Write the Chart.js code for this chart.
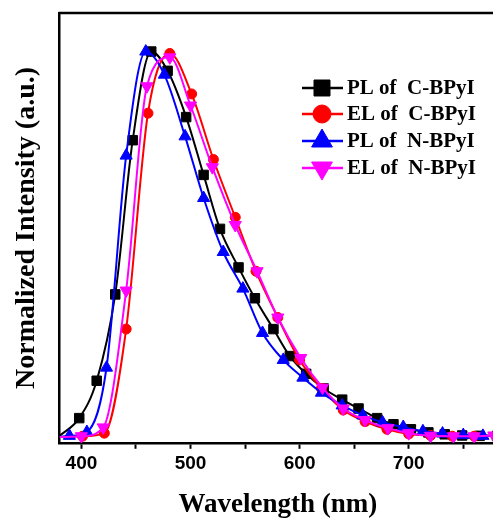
<!DOCTYPE html>
<html>
<head>
<meta charset="utf-8">
<script src="https://cdn.jsdelivr.net/npm/chart.js@4.4.0/dist/chart.umd.min.js"></script>
<style>
  html, body { margin: 0; padding: 0; background: #fff; overflow: hidden; }
  #wrap { width: 504px; height: 522px; }
</style>
</head>
<body>
<div id="wrap"><canvas id="spectra" width="504" height="522"></canvas></div>
<script>
// wavelengths (nm) and normalized intensity
// first point of each list is the curve start at the left axis (no marker)
const wlPLC  = [380, 398, 414, 431, 447, 464, 479, 496, 512, 527, 544, 559, 576, 591, 606, 622, 639, 654, 671, 686, 702, 718, 733, 749, 765, 781];
const valPLC = [0.003, 0.049, 0.146, 0.37, 0.77, 1.0, 0.95, 0.83, 0.68, 0.54, 0.44, 0.36, 0.28, 0.21, 0.164, 0.126, 0.097, 0.074, 0.049, 0.033, 0.02, 0.012, 0.007, 0.004, 0.003, 0.003];

const wlELC  = [380, 401, 421, 441, 461, 481, 501, 521, 541, 560, 580, 600, 620, 640, 660, 680, 700, 720, 740, 760, 780];
const valELC = [0.0, 0.002, 0.01, 0.28, 0.84, 0.995, 0.89, 0.72, 0.57, 0.43, 0.31, 0.20, 0.126, 0.07, 0.04, 0.02, 0.008, 0.004, 0.002, 0.002, 0.004];

const wlPLN  = [380, 389, 405, 423, 441, 459, 476, 495, 512, 530, 548, 566, 585, 603, 620, 639, 658, 676, 695, 713, 731, 750, 768, 786];
const valPLN = [0.0, 0.003, 0.013, 0.18, 0.73, 1.0, 0.94, 0.78, 0.62, 0.48, 0.385, 0.27, 0.20, 0.154, 0.115, 0.082, 0.056, 0.038, 0.026, 0.015, 0.009, 0.005, 0.003, 0.003];

const wlELN  = [380, 400, 420, 441, 460, 481, 500, 520, 541, 561, 580, 601, 621, 640, 660, 681, 700, 720, 741, 760, 778];
const valELN = [0.0, 0.002, 0.025, 0.38, 0.91, 0.985, 0.86, 0.70, 0.55, 0.43, 0.31, 0.205, 0.128, 0.074, 0.044, 0.023, 0.01, 0.003, 0.002, 0.002, 0.004];

const seriesNames = ['PL of  C-BPyI', 'EL of  C-BPyI', 'PL of  N-BPyI', 'EL of  N-BPyI'];
const xTicks = [400, 450, 500, 550, 600, 650, 700, 750];

function toPoints(xs, ys) {
    return xs.map((x, i) => ({x: x, y: ys[i]}));
}

function makeSet(label, xs, ys, color, style, r, rot, order) {
    return {
        label: label,
        data: toPoints(xs, ys),
        borderColor: color,
        backgroundColor: color,
        borderWidth: 2,
        pointStyle: style,
        pointRotation: rot,
        pointRadius: (ctx) => ctx.dataIndex === 0 ? 0 : r,
        pointBorderWidth: 1,
        pointBorderColor: color,
        pointBackgroundColor: color,
        cubicInterpolationMode: 'monotone',
        order: order
    };
}

const datasets = [
    makeSet(seriesNames[0], wlPLC, valPLC, '#000000', 'rect', 6.7, 0, 4),
    makeSet(seriesNames[1], wlELC, valELC, '#ff0000', 'circle', 5, 0, 3),
    makeSet(seriesNames[2], wlPLN, valPLN, '#0000ff', 'triangle', 7, 0, 2),
    makeSet(seriesNames[3], wlELN, valELN, '#ff00ff', 'triangle', 7, 180, 1)
];

// top frame line
const framePlugin = {
    id: 'frame',
    afterDraw(chart) {
        const a = chart.chartArea;
        const ctx = chart.ctx;
        ctx.save();
        ctx.strokeStyle = '#000';
        ctx.lineWidth = 2.5;
        ctx.beginPath();
        ctx.moveTo(a.left - 1, a.top);
        ctx.lineTo(a.right, a.top);
        ctx.lineTo(a.right, a.bottom);
        ctx.stroke();
        ctx.restore();
    }
};

// legend with a line through the marker
const legendPlugin = {
    id: 'lineLegend',
    afterDraw(chart) {
        const ctx = chart.ctx;
        const legendR = [11.3, 9, 12, 12];
        const rowY = [88, 114, 141, 168];
        ctx.save();
        chart.data.datasets.forEach((ds, i) => {
            const y = rowY[i];
            ctx.strokeStyle = ds.borderColor;
            ctx.fillStyle = ds.borderColor;
            ctx.lineWidth = 2.5;
            ctx.beginPath();
            ctx.moveTo(302, y);
            ctx.lineTo(343, y);
            ctx.stroke();
            ctx.lineWidth = 1;
            Chart.helpers.drawPoint(ctx, {
                pointStyle: ds.pointStyle,
                rotation: ds.pointRotation,
                radius: legendR[i],
                borderWidth: 1
            }, 322, y);
            ctx.fillStyle = '#000';
            ctx.font = 'bold 21px "Liberation Serif", "Times New Roman", serif';
            ctx.textBaseline = 'middle';
            ctx.textAlign = 'left';
            ctx.fillText(ds.label, 347, y + 1);
        });
        ctx.restore();
    }
};

const config = {
    type: 'line',
    data: {datasets: datasets},
    options: {
        responsive: false,
        animation: false,
        layout: {padding: {left: 10, top: 13, right: 0, bottom: 0}},
        plugins: {legend: {display: false}, tooltip: {enabled: false}},
        scales: {
            x: {
                type: 'linear',
                min: 380,
                max: 780,
                afterBuildTicks: (axis) => { axis.ticks = xTicks.map(v => ({value: v})); },
                grid: {drawOnChartArea: false, drawTicks: true, tickLength: 6, tickWidth: 2, tickColor: '#000'},
                border: {display: true, color: '#000', width: 2.5},
                ticks: {
                    color: '#000',
                    padding: 4,
                    maxRotation: 0,
                    font: {family: '"Liberation Sans", Arial, sans-serif', size: 19, weight: 'bold'},
                    callback: (v) => v % 100 === 0 ? String(v) : ''
                },
                title: {
                    display: true,
                    text: 'Wavelength (nm)',
                    color: '#000',
                    font: {family: '"Liberation Serif", "Times New Roman", serif', size: 27, weight: 'bold'},
                    padding: {top: 9, bottom: 1}
                }
            },
            y: {
                min: -0.015,
                max: 1.1,
                grid: {display: false, drawTicks: false},
                border: {display: true, color: '#000', width: 2.5},
                ticks: {display: false},
                title: {
                    display: true,
                    text: 'Normalized Intensity (a.u.)',
                    color: '#000',
                    font: {family: '"Liberation Serif", "Times New Roman", serif', size: 28, weight: 'bold'},
                    padding: {top: 0, bottom: 16}
                }
            }
        }
    },
    plugins: [framePlugin, legendPlugin]
};

const spectraChart = new Chart(document.getElementById('spectra'), config);
</script>
</body>
</html>
